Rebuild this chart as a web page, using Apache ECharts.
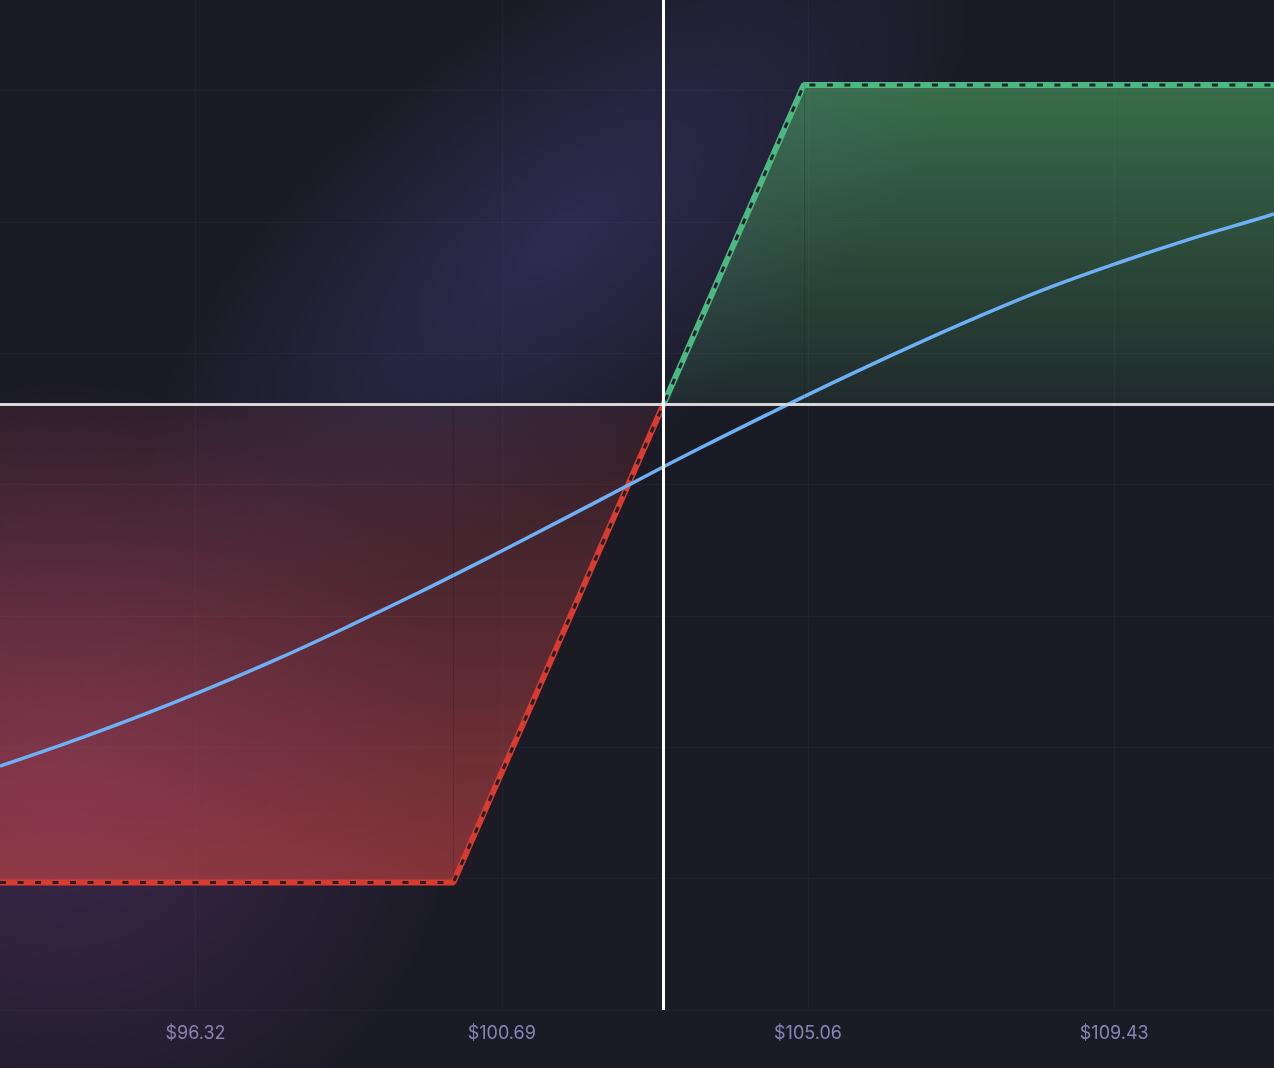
<!DOCTYPE html>
<html><head><meta charset="utf-8">
<script src="https://cdn.jsdelivr.net/npm/echarts@6/dist/echarts.min.js"></script>
<style>
html,body{margin:0;padding:0;width:1274px;height:1068px;overflow:hidden;background:#1b1b26;}
#bg{position:absolute;left:0;top:0;width:1274px;height:1068px;overflow:hidden;}
.glow{position:absolute;border-radius:50%;}
#chart{position:absolute;left:0;top:0;width:1274px;height:1068px;}
</style></head>
<body>
<div id="bg">
 <div class="glow" style="left:60px;top:20px;width:1000px;height:440px;transform:rotate(-38deg);background:radial-gradient(closest-side, rgba(60,56,112,0.58), rgba(60,56,112,0.26) 55%, rgba(60,56,112,0) 100%);"></div>
 <div class="glow" style="left:-340px;top:380px;width:800px;height:800px;background:radial-gradient(closest-side, rgba(118,62,140,0.38), rgba(118,62,140,0) 100%);"></div>
</div>
<div id="chart"></div>
<script>
// ---- data ----
const priceMin = 93.53;
const priceMax = 111.71;
const xTickValues = [96.32, 100.69, 105.06, 109.43];
const yMin = -3.8;
const yMax = 2.533;
const yGridValues = [-3.8, -2.977, -2.153, -1.33, -0.506, 0.318, 1.141, 1.965];
const lossPrices = [93.53, 100, 103];
const lossValues = [-3, -3, 0];
const profitPrices = [103, 105, 111.71];
const profitValues = [0, 2, 2];
const strikes = [100, 105];
const curvePrices = [93.53, 94.5, 95.5, 96.5, 97.5, 98.5, 99.5, 100.5, 101.5, 102.5, 103.5, 104.5, 105.5, 106.5, 107.5, 108.5, 109.5, 110.5, 111.5, 111.71];
const curveValues = [-2.271, -2.124, -1.961, -1.785, -1.597, -1.395, -1.184, -0.964, -0.738, -0.508, -0.281, -0.062, 0.151, 0.355, 0.549, 0.729, 0.887, 1.032, 1.163, 1.192];
const currentPrice = 103;

const zip = (xs, ys) => xs.map((x, i) => [x, ys[i]]);
const lossData = zip(lossPrices, lossValues);
const profitData = zip(profitPrices, profitValues);
const payoffData = lossData.concat(profitData.slice(1));
const curveData = zip(curvePrices, curveValues);

const chart = echarts.init(document.getElementById('chart'), null, {renderer: 'canvas'});
const gridLine = 'rgba(140,150,220,0.05)';
chart.setOption({
  backgroundColor: 'transparent',
  animation: false,
  grid: {left: 0, right: 0, top: 0, bottom: 58, containLabel: false},
  xAxis: {
    type: 'value', min: priceMin, max: priceMax,
    axisLine: {show: false},
    axisTick: {show: false, customValues: xTickValues},
    axisLabel: {
      customValues: xTickValues, color: '#8a83b5', fontSize: 18, margin: 15,
      fontFamily: 'Inter, Liberation Sans, Arial, sans-serif',
      formatter: v => '$' + v.toFixed(2)
    },
    splitLine: {show: true, lineStyle: {color: gridLine, width: 1}}
  },
  yAxis: {
    type: 'value', min: yMin, max: yMax,
    axisLine: {show: false},
    axisTick: {show: false, customValues: yGridValues},
    axisLabel: {show: false},
    splitLine: {show: true, lineStyle: {color: gridLine, width: 1}}
  },
  series: [
    {
      type: 'line', data: lossData, symbol: 'none', z: 2,
      lineStyle: {color: '#d93b31', width: 6},
      areaStyle: {origin: 0, color: new echarts.graphic.LinearGradient(0, 0, 0, 1, [
        {offset: 0, color: 'rgba(215,72,72,0.14)'},
        {offset: 1, color: 'rgba(215,72,72,0.8)'}
      ])},
      markLine: {silent: true, symbol: ['none', 'none'], label: {show: false},
        lineStyle: {color: 'rgba(0,0,0,0.12)', width: 1, type: 'solid'},
        data: [[{coord: [strikes[0], lossValues[0]]}, {coord: [strikes[0], 0]}]]}
    },
    {
      type: 'line', data: profitData, symbol: 'none', z: 2,
      lineStyle: {color: '#4cb882', width: 6},
      areaStyle: {origin: 0, color: new echarts.graphic.LinearGradient(0, 0, 0, 1, [
        {offset: 0, color: 'rgba(78,170,100,0.82)'},
        {offset: 1, color: 'rgba(78,170,100,0.16)'}
      ])},
      markLine: {silent: true, symbol: ['none', 'none'], label: {show: false},
        lineStyle: {color: 'rgba(0,0,0,0.12)', width: 1, type: 'solid'},
        data: [[{coord: [strikes[1], 0]}, {coord: [strikes[1], profitValues[1]]}]]}
    },
    {
      type: 'line', data: curveData, symbol: 'none', smooth: 0.4, z: 3,
      lineStyle: {color: '#6db0f6', width: 3.5}
    },
    {
      type: 'line', data: payoffData, symbol: 'none', z: 4,
      lineStyle: {color: 'rgba(28,28,36,0.95)', width: 3, type: [6, 11.5]}
    },
    {
      type: 'line', data: [], z: 5,
      markLine: {silent: true, symbol: ['none', 'none'], label: {show: false},
        data: [
          {yAxis: 0, lineStyle: {color: '#d6d6d6', width: 3, type: 'solid'}},
          {xAxis: currentPrice, lineStyle: {color: '#ffffff', width: 3, type: 'solid'}}
        ]}
    }
  ]
});
</script>
</body></html>
